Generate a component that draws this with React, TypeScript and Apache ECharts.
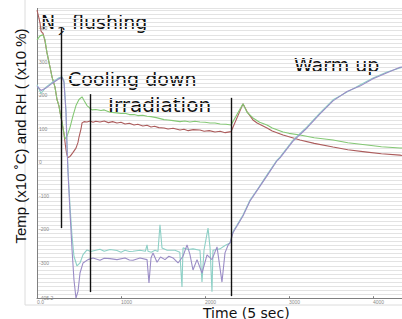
import React, { useEffect, useRef } from "react";
import * as echarts from "echarts";

// Time (5 sec) vs value
const redSeries: number[][] = [
  [0, 455], [24, 430], [36, 416], [48, 392], [60, 388], [71, 386], [95, 362], [119, 327], [155, 285], [179, 255],
  [214, 225], [238, 188], [262, 168], [274, 150], [298, 120], [321, 85], [333, 62], [345, 38], [357, 22], [369, 15],
  [393, 18], [405, 22], [429, 30], [464, 43], [488, 60], [500, 76], [524, 100], [536, 118], [560, 122], [595, 121],
  [630, 124], [667, 120], [700, 123], [750, 121], [800, 124], [850, 119], [900, 122], [952, 118], [1000, 120],
  [1048, 115], [1100, 117], [1155, 112], [1200, 114], [1260, 109], [1310, 111], [1357, 106], [1400, 108],
  [1450, 104], [1512, 103], [1560, 100], [1620, 102], [1702, 97], [1750, 99], [1800, 95], [1860, 98], [1940, 97],
  [1990, 93], [2050, 95], [2119, 91], [2180, 93], [2240, 89], [2310, 92], [2452, 175], [2500, 152], [2571, 127],
  [2620, 118], [2738, 103], [2800, 94], [2929, 82], [3000, 77], [3131, 67], [3300, 57], [3524, 46], [3700, 38],
  [3929, 31], [4100, 26], [4321, 22], [4345, 21],
];

const greenSeries: number[][] = [
  [0, 366], [36, 378], [71, 381], [95, 367], [119, 327], [155, 285], [179, 255], [214, 225], [238, 188], [262, 168],
  [274, 150], [298, 120], [321, 88], [333, 70], [357, 78], [393, 105], [429, 140], [464, 170], [500, 188], [536, 196],
  [560, 185], [595, 170], [630, 162], [655, 157], [700, 158], [762, 155], [800, 157], [869, 150], [952, 148],
  [1000, 146], [1048, 147], [1100, 143], [1155, 143], [1200, 140], [1260, 141], [1310, 138], [1357, 137],
  [1420, 134], [1512, 128], [1560, 127], [1620, 125], [1702, 122], [1760, 124], [1820, 121], [1880, 123],
  [1940, 121], [2000, 120], [2060, 118], [2119, 118], [2180, 115], [2250, 114], [2310, 112], [2452, 175],
  [2500, 150], [2571, 133], [2650, 120], [2738, 112], [2800, 103], [2929, 91], [3000, 87], [3131, 82], [3300, 74],
  [3524, 67], [3700, 59], [3929, 52], [4100, 47], [4321, 43], [4345, 43],
];

const tealSeries: number[][] = [
  [0, 232], [48, 206], [107, 225], [179, 239], [262, 253], [298, 256], [321, 245], [345, 157], [357, 58], [369, -22],
  [393, -130], [417, -220], [440, -280], [476, -309], [512, -300], [548, -275], [595, -261], [640, -266], [700, -262],
  [750, -259], [800, -265], [869, -260], [952, -263], [1000, -268], [1048, -262], [1100, -266], [1143, -265],
  [1226, -262], [1290, -265], [1310, -246], [1321, -265], [1360, -268], [1405, -262], [1440, -266], [1464, -186],
  [1488, -255], [1550, -262], [1643, -262], [1700, -268], [1726, -372], [1738, -255], [1800, -260], [1857, -258],
  [1940, -262], [1964, -357], [1988, -262], [2036, -196], [2060, -255], [2083, -386], [2095, -262], [2179, -258],
  [2238, -248], [2298, -240], [2333, -207], [2452, -157], [2536, -112], [2619, -82], [2738, -37], [2857, 7],
  [2893, 16], [3048, 67], [3214, 106], [3369, 148], [3524, 187], [3690, 210], [3845, 231], [4000, 252], [4167, 270],
  [4321, 282], [4345, 284],
];

const purpleSeries: number[][] = [
  [0, 228], [48, 215], [107, 222], [179, 236], [262, 250], [298, 254], [321, 240], [345, 150], [357, 50], [369, -30],
  [393, -150], [417, -260], [440, -350], [464, -405.2], [488, -385], [512, -330], [548, -300], [607, -290],
  [667, -285], [750, -292], [800, -286], [869, -287], [952, -290], [1048, -285], [1100, -291], [1143, -292],
  [1226, -285], [1310, -290], [1333, -360], [1357, -285], [1381, -270], [1429, -298], [1470, -282], [1524, -290],
  [1570, -280], [1619, -285], [1679, -300], [1738, -280], [1786, -246], [1821, -275], [1857, -321], [1905, -290],
  [1964, -330], [2024, -276], [2083, -290], [2143, -252], [2202, -357], [2238, -270], [2274, -247], [2298, -240],
  [2333, -210], [2452, -160], [2536, -115], [2619, -84], [2738, -40], [2857, 5], [2893, 14], [3048, 64],
  [3214, 103], [3369, 145], [3524, 184], [3690, 212], [3845, 228], [4000, 250], [4167, 268], [4321, 284], [4345, 285],
];

// phase marker lines: [time, top value, bottom value]
const phaseLines: number[][] = [
  [286, 401, -196],
  [639, 204, -387],
  [2315, 193, -399],
];

const yTickLabels = [-405.2, -300, -200, -100, 0, 100, 200, 300, 400];
const xTicks = [0, 1000, 2000, 3000, 4000];

const Y_MIN = -405.2;
const Y_MAX = 460;
const X_MAX = 4345;
const GRID_STEP = 12.1;

const DV = '"DejaVu Sans", Verdana, sans-serif';

export default function App() {
  const ref = useRef<HTMLDivElement>(null);
  useEffect(() => {
    if (!ref.current) return;
    const chart = echarts.init(ref.current, null, { renderer: "svg" });
    const lineSeries = (name: string, data: number[][], color: string, extra: any = {}) => ({
      name,
      type: "line",
      data,
      yAxisIndex: 0,
      showSymbol: false,
      symbol: "none",
      lineStyle: { color, width: 1.1 },
      ...extra,
    });
    chart.setOption({
      animation: false,
      backgroundColor: "#ffffff",
      grid: { left: 37, top: 8.4, width: 365, height: 289.8, containLabel: false },
      xAxis: {
        type: "value",
        min: 0,
        max: X_MAX,
        interval: 1000,
        axisLine: { show: true, onZero: false, lineStyle: { color: "#808080", width: 1 } },
        axisTick: { show: true, inside: true, length: 2, lineStyle: { color: "#808080" } },
        axisLabel: {
          show: true,
          customValues: xTicks,
          fontSize: 5,
          color: "#8a8a8a",
          align: "left",
          margin: 1.5,
          formatter: (v: number) => (v === 0 ? "0.0" : String(v)),
        },
        splitLine: { show: false },
      },
      yAxis: [
        {
          type: "value",
          min: Y_MIN,
          max: Y_MAX,
          position: "left",
          z: 3,
          axisLine: { show: true, onZero: false, lineStyle: { color: "#808080", width: 1 } },
          axisTick: { show: false },
          axisLabel: {
            show: true,
            inside: true,
            customValues: yTickLabels,
            fontSize: 5,
            color: "#8a8a8a",
            margin: 2,
            formatter: (v: number) => String(v),
          },
          splitLine: { show: false },
        },
        {
          type: "value",
          min: Y_MIN,
          max: Y_MAX,
          interval: GRID_STEP,
          position: "left",
          axisLine: { show: false },
          axisTick: { show: false },
          axisLabel: { show: false },
          splitLine: { show: true, lineStyle: { color: "#e3e3e3", width: 1 } },
        },
      ],
      series: [
        lineSeries("red", redSeries, "#ac5c5c", {
          markLine: {
            silent: true,
            symbol: ["none", "none"],
            label: { show: false },
            lineStyle: { color: "#111111", width: 1.4, type: "solid" },
            data: phaseLines.map((p) => [{ coord: [p[0], p[1]] }, { coord: [p[0], p[2]] }]),
          },
        }),
        lineSeries("green", greenSeries, "#84c874"),
        lineSeries("teal", tealSeries, "#8ed0c6"),
        lineSeries("purple", purpleSeries, "#9a8cc6"),
      ],
      graphic: [
        {
          type: "polyline",
          silent: true,
          shape: { points: [[25, 0], [25, 305], [402, 305]] },
          style: { stroke: "#dcdcdc", fill: "none", lineWidth: 1 },
        },
        { type: "text", x: 41, y: 22, style: { text: "N", font: `19px ${DV}`, fill: "#111", align: "left", verticalAlign: "middle" } },
        { type: "text", x: 57.5, y: 31, style: { text: "2", font: `13px ${DV}`, fill: "#111", align: "left", verticalAlign: "middle" } },
        { type: "text", x: 72, y: 22, style: { text: "flushing", font: `19px ${DV}`, fill: "#111", align: "left", verticalAlign: "middle" } },
        { type: "text", x: 68, y: 79, style: { text: "Cooling down", font: `19px ${DV}`, fill: "#111", align: "left", verticalAlign: "middle" } },
        { type: "text", x: 108, y: 105, style: { text: "Irradiation", font: `20px ${DV}`, fill: "#111", align: "left", verticalAlign: "middle" } },
        { type: "text", x: 294, y: 65, style: { text: "Warm up", font: `19px ${DV}`, fill: "#111", align: "left", verticalAlign: "middle" } },
        {
          type: "text",
          x: 20,
          y: 136,
          rotation: Math.PI / 2,
          style: { text: "Temp (x10 ˚C) and RH ( (x10 %)", font: `15px "Liberation Sans", Arial, sans-serif`, fill: "#111", align: "center", verticalAlign: "middle" },
        },
        { type: "text", x: 203, y: 312.5, style: { text: "Time (5 sec)", font: `14px ${DV}`, fill: "#111", align: "left", verticalAlign: "middle" } },
      ],
    });
    return () => chart.dispose();
  }, []);
  return <div ref={ref} style={{ position: "absolute", left: 0, top: 0, width: 402, height: 319 }} />;
}
